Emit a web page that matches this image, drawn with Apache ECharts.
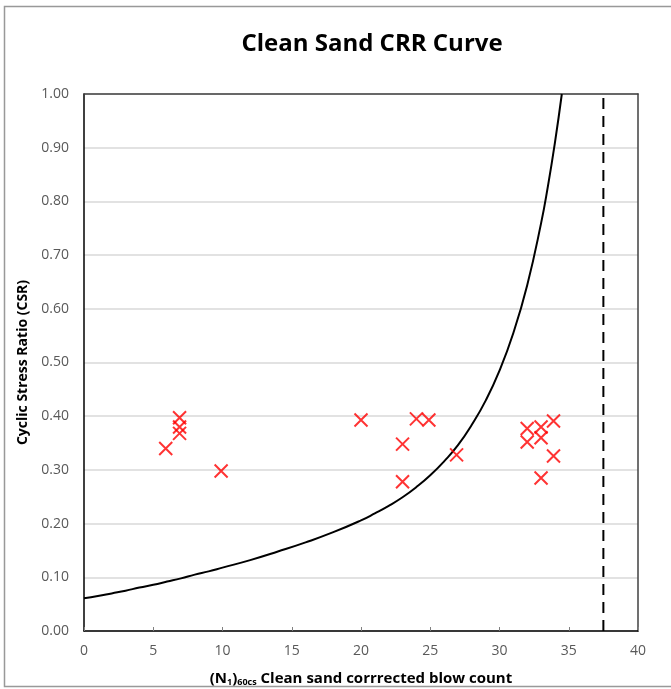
<!DOCTYPE html>
<html><head><meta charset="utf-8">
<script src="https://cdn.jsdelivr.net/npm/echarts@6/dist/echarts.min.js"></script>
<style>html,body{margin:0;padding:0;background:#fff}#c{width:671px;height:689px}</style>
</head><body><div id="c"></div>
<script>
// CRR curve points: [N1_60cs, CRR]
const curveN =   [0, 1, 2, 3, 4, 5, 6, 7, 8, 9, 10, 12, 14, 16, 18, 20, 21, 22, 23, 24, 25, 26, 27, 28, 29, 30, 31, 32, 33, 33.5, 34, 34.5];
const curveCRR = [0.061, 0.065, 0.070, 0.075, 0.081, 0.086, 0.092, 0.098, 0.105, 0.111, 0.118, 0.132, 0.148, 0.165, 0.184, 0.206, 0.219, 0.233, 0.249, 0.268, 0.290, 0.316, 0.346, 0.384, 0.429, 0.485, 0.555, 0.644, 0.759, 0.829, 0.909, 1.0];
// Site data points
const pointN =   [6.9, 6.9, 6.9, 5.9, 9.9, 20.0, 24.0, 24.9, 23.0, 23.0, 26.9, 32.0, 32.0, 33.0, 33.0, 33.9, 33.9, 33.0];
const pointCSR = [0.397, 0.380, 0.368, 0.340, 0.298, 0.393, 0.395, 0.393, 0.348, 0.278, 0.328, 0.377, 0.352, 0.380, 0.360, 0.391, 0.326, 0.285];
// Vertical limit line
const limitN = [37.5];
const limitY = [0, 1];
const xTicks = [0, 5, 10, 15, 20, 25, 30, 35, 40];

const chart = echarts.init(document.getElementById('c'), null, {renderer: 'canvas'});
const font = '"Open Sans", "Liberation Sans", sans-serif';
const frameAxis = {
  type: 'value', axisLine: {show: true, onZero: false, lineStyle: {color: '#404040', width: 1.5}},
  axisTick: {show: false}, axisLabel: {show: false}, splitLine: {show: false}
};
chart.setOption({
  animation: false,
  backgroundColor: '#fff',
  title: {
    text: 'Clean Sand CRR Curve', left: 367, top: 27, textAlign: 'center',
    textStyle: {fontFamily: font, fontSize: 24, fontWeight: 'bold', color: '#000'}
  },
  graphic: [{type: 'rect', shape: {x: 4.5, y: 6.5, width: 680, height: 680}, style: {fill: 'none', stroke: '#999', lineWidth: 1.5}, silent: true}],
  grid: {left: 84, right: 33, top: 94, bottom: 58, show: false, containLabel: false, outerBoundsMode: 'none'},
  xAxis: [{
    type: 'value', min: xTicks[0], max: xTicks[xTicks.length - 1], interval: 5,
    axisLine: {show: true, onZero: false, lineStyle: {color: '#000', width: 1.5}},
    axisTick: {show: true, inside: true, length: 4, lineStyle: {color: '#808080'}},
    axisLabel: {fontFamily: font, fontSize: 14, color: '#595959', margin: 13},
    splitLine: {show: false},
    name: '{n|(N}{sub|1}{n|)}{sub|60cs}{n| Clean sand corrrected blow count}',
    nameLocation: 'middle', nameGap: 40,
    nameTextStyle: {
      rich: {
        n: {fontFamily: font, fontSize: 15, fontWeight: 'bold', color: '#000'},
        sub: {fontFamily: font, fontSize: 9, fontWeight: 'bold', color: '#000', verticalAlign: 'bottom', padding: [7, 0, 0, 0]}
      }
    }
  }, Object.assign({position: 'top', min: 0, max: 40}, frameAxis)],
  yAxis: [{
    type: 'value', min: 0, max: 1, interval: 0.1,
    axisLine: {show: true, onZero: false, lineStyle: {color: '#000', width: 1.5}},
    axisTick: {show: false},
    axisLabel: {fontFamily: font, fontSize: 14, color: '#595959', margin: 15, formatter: v => v.toFixed(2)},
    splitLine: {show: true, lineStyle: {color: '#d9d9d9', width: 1.5}},
    name: 'Cyclic Stress Ratio (CSR)', nameLocation: 'middle', nameGap: 50,
    nameTextStyle: {fontFamily: font, fontSize: 14, fontWeight: 'bold', color: '#000'}
  }, Object.assign({position: 'right', min: 0, max: 1}, frameAxis)],
  series: [
    {
      type: 'line', data: curveN.map((n, i) => [n, curveCRR[i]]), smooth: true,
      showSymbol: false, lineStyle: {color: '#000', width: 2}, z: 3, clip: true
    },
    {
      type: 'line', data: limitY.map(y => [limitN[0], y]), showSymbol: false,
      lineStyle: {color: '#000', width: 2, type: [11, 7]}, z: 3
    },
    {
      type: 'scatter', data: pointN.map((n, i) => [n, pointCSR[i]]),
      symbol: 'path://M0,0 L10,10 M10,0 L0,10', symbolSize: 13,
      itemStyle: {color: 'none', borderColor: '#ff0000', borderWidth: 2}, z: 4
    }
  ]
});
</script></body></html>
